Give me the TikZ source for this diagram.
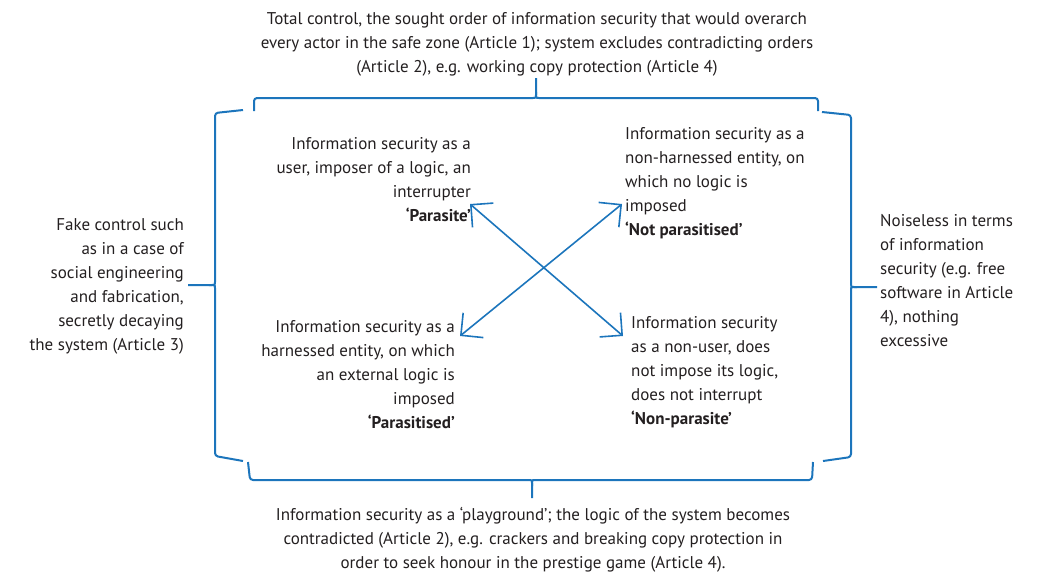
\documentclass[tikz,border=0pt]{standalone}
\usepackage{fontspec}
\setmainfont{PT Sans}
\usetikzlibrary{
    arrows.meta,
    positioning,
    calc
}
\definecolor{bracesblue}{RGB}{28, 117, 188}
\definecolor{textgrey}{RGB}{35, 31, 32}
\tikzset{
    txt/.style={font=\fontsize{17}{24}\selectfont, text=textgrey, inner sep=0pt},
    bracket/.style={draw=bracesblue, line width=2pt, rounded corners=3pt},
    twoway/.style={draw=bracesblue, line width=1.6pt,
        {Straight Barb[length=16pt, width=32pt]}-{Straight Barb[length=16pt, width=32pt]}}
}

\begin{document}
\begin{tikzpicture}[x=1pt, y=-1pt]
    \useasboundingbox (0,0) rectangle (1041,574);

    % Outer texts
    \node[txt, align=center] (totalcontrol) at (537,44)
        {Total control, the sought order of information security that would overarch\\
         every actor in the safe zone (Article 1); system excludes contradicting orders\\
         (Article 2), e.g. working copy protection (Article 4)};
    \node[txt, align=center] (playground) at (533,540)
        {Information security as a ‘playground’; the logic of the system becomes\\
         contradicted (Article 2), e.g. crackers and breaking copy protection in\\
         order to seek honour in the prestige game (Article 4).};
    \node[txt, align=right, anchor=east] (fakecontrol) at (184,286)
        {Fake control such\\as in a case of\\social engineering\\and fabrication,\\secretly decaying\\the system (Article 3)};
    \node[txt, align=left, anchor=west] (noiseless) at (880,281)
        {Noiseless in terms\\of information\\security (e.g. free\\software in Article\\4), nothing\\excessive};

    % Quadrants
    \node[txt, align=right, anchor=east] (parasite) at (471,180)
        {Information security as a\\user, imposer of a logic, an\\interrupter\\\textbf{‘Parasite’}};
    \node[txt, align=left, anchor=west] (notparasitised) at (625,183)
        {Information security as a\\non-harnessed entity, on\\which no logic is\\imposed\\\textbf{‘Not parasitised’}};
    \node[txt, align=right, anchor=east] (parasitised) at (455,375)
        {Information security as a\\harnessed entity, on which\\an external logic is\\imposed\\\textbf{‘Parasitised’}};
    \node[txt, align=left, anchor=west] (nonparasite) at (631,372)
        {Information security\\as a non-user, does\\not impose its logic,\\does not interrupt\\\textbf{‘Non-parasite’}};

    % Arrow ends
    \coordinate (parasiteEnd) at (470,204);
    \coordinate (nonparasiteEnd) at (623,336);
    \coordinate (notparEnd) at (622,204);
    \coordinate (parasitisedEnd) at (460,336);

    \draw[twoway] (parasiteEnd) -- (nonparasiteEnd);
    \draw[twoway] (notparEnd) -- (parasitisedEnd);

    % Braces
    \draw[bracket] (254,111) -- (254,98) -- (530,98) .. controls (536,98) .. (536,92) -- (536,78);
    \draw[bracket] (536,92) .. controls (536,98) .. (542,98) -- (818,98) -- (818,111);

    \draw[bracket] (248,462) -- (250,480) -- (526,480) .. controls (532,480) .. (532,486) -- (532,498);
    \draw[bracket] (532,486) .. controls (532,480) .. (538,480) -- (812,480) -- (813,462);

    \draw[bracket] (243,110) -- (215,113) -- (215,279) .. controls (215,285) .. (209,285) -- (188,285);
    \draw[bracket] (209,285) .. controls (215,285) .. (215,291) -- (215,456) -- (243,461);

    \draw[bracket] (822,112) -- (851,115) -- (851,281) .. controls (851,287) .. (857,287) -- (877,287);
    \draw[bracket] (857,287) .. controls (851,287) .. (851,293) -- (851,457) -- (823,461);
\end{tikzpicture}
\end{document}
